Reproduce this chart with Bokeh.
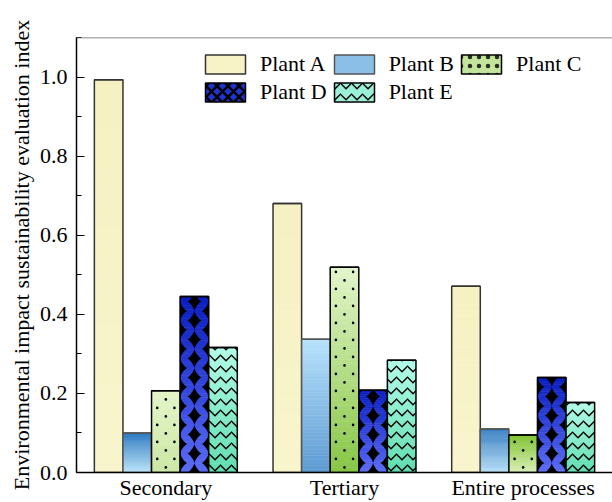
import math
from bokeh.plotting import figure
from bokeh.models import (Legend, LegendItem, Range1d, Span, FixedTicker,
                          SingleIntervalTicker, PrintfTickFormatter, ColumnDataSource)
from bokeh.embed import file_html
from bokeh.resources import INLINE

stages = ["Secondary", "Tertiary", "Entire processes"]
plants = ["Plant A", "Plant B", "Plant C", "Plant D", "Plant E"]
plant_a = [0.993, 0.680, 0.471]
plant_b = [0.100, 0.337, 0.110]
plant_c = [0.207, 0.519, 0.095]
plant_d = [0.445, 0.208, 0.240]
plant_e = [0.316, 0.284, 0.177]
y_label = "Environmental impact sustainability evaluation index"
y_max = 1.1

FONT = "Liberation Serif"
W, H = 612, 502
B_LEFT, B_TOP, B_BOTTOM = 76, 37, 30
PX_X = (W - B_LEFT) / len(stages)          # pixels per x unit
PX_Y = (H - B_TOP - B_BOTTOM) / y_max       # pixels per y unit

# colours: (top colours per stage, bottom colours per stage)
grad = {
    "Plant A": (["#F6F1C2"] * 3, ["#F8F5CD"] * 3),
    "Plant B": (["#2E7BC0", "#B8E2FC", "#3A80C2"], ["#BCE4FA", "#5C9AD2", "#B8E0F8"]),
    "Plant C": (["#E4F5C8", "#E2F5CA", "#7CC22E"], ["#CBE7A4", "#86C645", "#DCF0B8"]),
    "Plant D": (["#0A1EC0"] * 3, ["#5A6BF5"] * 3),
    "Plant E": (["#B2FCE8"] * 3, ["#5EDCAE"] * 3),
}
legend_fill = {"Plant A": "#F7F3C6", "Plant B": "#8BBFE8", "Plant C": "#C2E49C",
               "Plant D": "#1F33D2", "Plant E": "#9AF0D6"}
outline = {
    "Plant A": dict(line_color="#333333"),
    "Plant B": dict(line_color="#555555"),
    "Plant C": dict(line_color="black"),
    "Plant D": dict(line_color="black"),
    "Plant E": dict(line_color="black", hatch_pattern="horizontal_wave", hatch_color="black",
                    hatch_scale=11, hatch_weight=1.4),
}
legend_hatch = {
    "Plant C": dict(hatch_pattern="dot", hatch_color="black", hatch_scale=9, hatch_alpha=0.8),
    "Plant D": dict(hatch_pattern="diagonal_cross", hatch_color="black", hatch_scale=11,
                    hatch_weight=2.5),
}
series = [plant_a, plant_b, plant_c, plant_d, plant_e]
offsets = [-0.32, -0.16, 0.0, 0.16, 0.32]
bar_w = 0.16
NSEG = 40
xc = [j + 0.5 for j in range(len(stages))]


def blend(c1, c2, t):
    a = [int(c1[i:i + 2], 16) for i in (1, 3, 5)]
    b = [int(c2[i:i + 2], 16) for i in (1, 3, 5)]
    return "#" + "".join(f"{round(x + (y - x) * t):02x}" for x, y in zip(a, b))


p = figure(x_range=Range1d(0, len(stages)), y_range=Range1d(0, y_max),
           width=W, height=H, output_backend="svg", toolbar_location=None,
           min_border_left=B_LEFT, min_border_right=0, min_border_top=B_TOP,
           min_border_bottom=B_BOTTOM)
p.outline_line_color = None
p.xgrid.visible = False
p.ygrid.visible = False


def dots_for(xm, v):
    """staggered dot texture inside a bar (pixel spacing converted to data units)"""
    xs, ys = [], []
    step = 8.5 / PX_Y
    side = 8.6 / PX_X
    r, y = 0, 0.6 * step
    while y < v - 0.3 * step:
        if r % 2 == 0:
            xs.append(xm); ys.append(y)
        else:
            xs += [xm - side, xm + side]; ys += [y, y]
        r += 1
        y += step
    return xs, ys


def star(cx, cy, xl, xr, v, hw=7.0, hh=9.5, n=0.75, m=28):
    px, py = [], []
    for i in range(m):
        t = 2 * math.pi * i / m
        c, s = math.cos(t), math.sin(t)
        dx = hw * math.copysign(abs(c) ** (2 / n), c) / PX_X
        dy = hh * math.copysign(abs(s) ** (2 / n), s) / PX_Y
        px.append(min(max(cx + dx, xl), xr))
        py.append(min(max(cy + dy, 0.0), v))
    return px, py


def diamonds_for(xm, v):
    xs, ys = [], []
    half = bar_w / 2
    xl, xr = xm - half, xm + half
    period = 19.0 / PX_Y
    hh = 9.5 / PX_Y
    k = 0
    while k * period / 2 - hh < v:
        cy = k * period / 2
        centres = [xm] if k % 2 == 0 else [xl, xr]
        for cx in centres:
            if cy - hh < v:
                a, b = star(cx, cy, xl, xr, v)
                xs.append(a); ys.append(b)
        k += 1
    return xs, ys


items = []
for name, vals, off in zip(plants, series, offsets):
    tops, bots = grad[name]
    xpos = [x + off for x in xc]
    seg = dict(x=[], bottom=[], top=[], color=[])
    for j, v in enumerate(vals):
        for k in range(NSEG):
            seg["x"].append(xpos[j])
            seg["bottom"].append(v * k / NSEG)
            seg["top"].append(v * (k + 1) / NSEG)
            seg["color"].append(blend(bots[j], tops[j], (k + 0.5) / NSEG))
    p.vbar(x="x", bottom="bottom", top="top", width=bar_w, source=ColumnDataSource(seg),
           fill_color="color", line_color="color", line_width=0.6)
    if name == "Plant C":
        dx, dy = [], []
        for xm, v in zip(xpos, vals):
            a, b = dots_for(xm, v)
            dx += a; dy += b
        p.scatter(x=dx, y=dy, marker="circle", size=2.6, fill_color="black", line_color=None)
    if name == "Plant D":
        pxs, pys = [], []
        for xm, v in zip(xpos, vals):
            a, b = diamonds_for(xm, v)
            pxs += a; pys += b
        p.patches(xs=pxs, ys=pys, fill_color="black", line_color=None)
    src = ColumnDataSource(dict(x=xpos, value=vals))
    p.vbar(x="x", top="value", width=bar_w, source=src, fill_color=None, line_width=1.5,
           **outline[name])
    # zero-height twin (only its top edge shows, on the outline) used as the legend swatch
    hatch = legend_hatch.get(name, {k: v for k, v in outline[name].items() if k.startswith("hatch")})
    rl = p.vbar(x="x", top="value", bottom="value", width=bar_w, source=src,
                fill_color=legend_fill[name], line_width=1.5,
                line_color=outline[name]["line_color"], **hatch)
    items.append(LegendItem(label=name, renderers=[rl]))

legend = Legend(items=items, orientation="horizontal", ncols=3, location=(124, 367),
                glyph_width=50, glyph_height=24, label_height=24, label_standoff=10,
                spacing=2, padding=0, margin=0, border_line_color=None,
                background_fill_alpha=0, label_text_font=FONT,
                label_text_font_size="22px", label_text_color="black")
p.add_layout(legend)

# y axis
ya = p.yaxis[0]
ya.ticker = SingleIntervalTicker(interval=0.2, num_minor_ticks=2)
ya.formatter = PrintfTickFormatter(format="%.1f")
ya.axis_label = y_label
ya.axis_label_text_font = FONT
ya.axis_label_text_font_size = "22px"
ya.axis_label_text_font_style = "normal"
ya.axis_label_text_color = "black"
ya.axis_label_standoff = 3
ya.major_label_text_font = FONT
ya.major_label_text_font_size = "22px"
ya.major_label_text_color = "black"
ya.major_label_standoff = 9
ya.major_tick_in = 8
ya.major_tick_out = 0
ya.minor_tick_in = 5
ya.minor_tick_out = 0
ya.axis_line_width = 1.5
ya.major_tick_line_width = 1.2
ya.minor_tick_line_width = 1.2
ya.axis_line_color = "black"

# x axis: category names at the group centres
xa = p.xaxis[0]
xa.ticker = FixedTicker(ticks=xc)
xa.major_label_overrides = {x: s for x, s in zip(xc, stages)}
xa.major_tick_line_color = None
xa.minor_tick_line_color = None
xa.major_label_text_font = FONT
xa.major_label_text_font_size = "22px"
xa.major_label_text_color = "black"
xa.major_label_standoff = -4
xa.axis_line_width = 1.5
xa.axis_line_color = "black"

# top border of the frame
p.add_layout(Span(location=y_max, dimension="width", line_color="#666666", line_width=1.5))

open("out.html", "w").write(file_html(p, INLINE))
